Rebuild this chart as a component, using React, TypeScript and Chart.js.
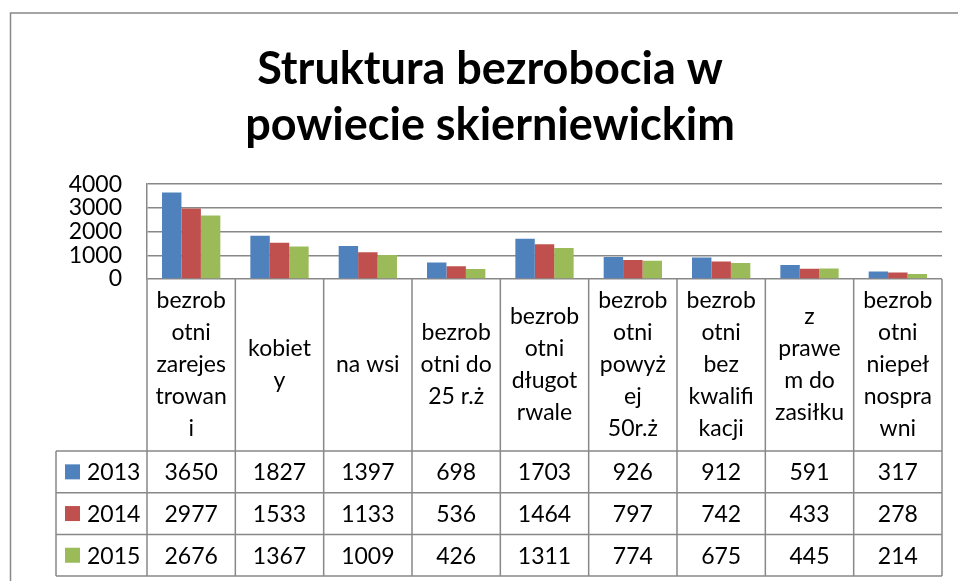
import React, { useEffect, useRef } from "react";
import { Chart, registerables } from "chart.js";

Chart.register(...registerables);

const titleLines = ["Struktura bezrobocia w", "powiecie skierniewickim"];
const categories: string[][] = [
  ["bezrob", "otni", "zarejes", "trowan", "i"],
  ["kobiet", "y"],
  ["na wsi"],
  ["bezrob", "otni do", "25 r.ż"],
  ["bezrob", "otni", "długot", "rwale"],
  ["bezrob", "otni", "powyż", "ej", "50r.ż"],
  ["bezrob", "otni", "bez", "kwalifi", "kacji"],
  ["z", "prawe", "m do", "zasiłku"],
  ["bezrob", "otni", "niepeł", "nospra", "wni"],
];
const seriesNames = ["2013", "2014", "2015"];
const values2013 = [3650, 1827, 1397, 698, 1703, 926, 912, 591, 317];
const values2014 = [2977, 1533, 1133, 536, 1464, 797, 742, 433, 278];
const values2015 = [2676, 1367, 1009, 426, 1311, 774, 675, 445, 214];
const seriesValues = [values2013, values2014, values2015];
const seriesColors = ["#4F81BD", "#C0504D", "#9BBB59"];
const yMin = 0;
const yMax = 4000;
const yStep = 1000;

const GRID = "#888888";
const FONT = "Lato";
const TEXT_SIZE = 23;

const frameAndTablePlugin = {
  id: "frameAndTable",
  beforeDraw(chart: any) {
    const { ctx } = chart;
    ctx.save();
    ctx.strokeStyle = GRID;
    ctx.lineWidth = 1.5;
    ctx.beginPath();
    ctx.moveTo(10.5, 600);
    ctx.lineTo(10.5, 13);
    ctx.lineTo(970, 13);
    ctx.stroke();
    ctx.restore();
  },
  afterDraw(chart: any) {
    const { ctx, chartArea } = chart;
    const xs = chart.scales.x;
    const n = categories.length;
    const colW = (xs.right - xs.left) / n;
    const top = chartArea.bottom;
    const headerBottom = top + 172;
    const rowH = 41.7;
    const tableBottom = headerBottom + seriesNames.length * rowH;
    const legendLeft = 56;

    ctx.save();
    ctx.strokeStyle = GRID;
    ctx.lineWidth = 1.5;
    ctx.beginPath();
    for (let i = 0; i <= n; i++) {
      const xx = xs.left + i * colW;
      ctx.moveTo(xx, top);
      ctx.lineTo(xx, tableBottom);
    }
    ctx.moveTo(legendLeft, headerBottom);
    ctx.lineTo(legendLeft, tableBottom);
    for (let r = 0; r <= seriesNames.length; r++) {
      const yy = headerBottom + r * rowH;
      ctx.moveTo(legendLeft, yy);
      ctx.lineTo(xs.right, yy);
    }
    ctx.stroke();

    ctx.fillStyle = "#000";
    ctx.font = `${TEXT_SIZE}px ${FONT}`;
    ctx.textAlign = "center";
    ctx.textBaseline = "middle";
    const lh = 32;
    const headerMid = (top + headerBottom) / 2;
    categories.forEach((lines, i) => {
      const cx = xs.getPixelForValue(i);
      const startY = headerMid - ((lines.length - 1) * lh) / 2;
      lines.forEach((t, k) => ctx.fillText(t, cx, startY + k * lh));
    });

    seriesNames.forEach((name, d) => {
      const mid = headerBottom + (d + 0.5) * rowH;
      ctx.fillStyle = seriesColors[d];
      ctx.fillRect(65, mid - 7.5, 15, 15);
      ctx.fillStyle = "#000";
      ctx.textAlign = "left";
      ctx.fillText(name, 87, mid + 1);
      ctx.textAlign = "center";
      seriesValues[d].forEach((v, i) => {
        ctx.fillText(String(v), xs.getPixelForValue(i), mid + 1);
      });
    });
    ctx.restore();
  },
};

export default function App() {
  const ref = useRef<HTMLCanvasElement | null>(null);
  useEffect(() => {
    if (!ref.current) return;
    const chart = new Chart(ref.current, {
      type: "bar",
      data: {
        labels: categories.map((c) => c.join(" ")),
        datasets: seriesNames.map((name, d) => ({
          label: name,
          data: seriesValues[d],
          backgroundColor: seriesColors[d],
          borderWidth: 0,
          categoryPercentage: 0.66,
          barPercentage: 1,
        })),
      },
      options: {
        responsive: false,
        animation: false,
        devicePixelRatio: 1,
        layout: { padding: { left: 38, right: 16, top: 0, bottom: 302 } },
        plugins: {
          legend: { display: false },
          tooltip: { enabled: false },
          title: {
            display: true,
            text: titleLines,
            color: "#000",
            font: { family: FONT, size: 45, weight: "bold", lineHeight: 1.24 },
            padding: { top: 42, bottom: 30.6 },
          },
        },
        scales: {
          x: { display: false },
          y: {
            min: yMin,
            max: yMax,
            ticks: {
              stepSize: yStep,
              autoSkip: false,
              callback: (v: any) => String(v),
              color: "#000",
              font: { family: FONT, size: TEXT_SIZE, lineHeight: 1 },
              padding: 25,
            },
            grid: { color: GRID, lineWidth: 1.5, drawTicks: false },
            border: { display: true, color: GRID, width: 1.5 },
            afterFit: (scale: any) => {
              scale.width = 109;
            },
          },
        },
      },
      plugins: [frameAndTablePlugin],
    });
    return () => chart.destroy();
  }, []);
  return (
    <div style={{ position: "fixed", left: 0, top: 0, width: 958, height: 581, background: "#fff" }}>
      <canvas ref={ref} width={958} height={581} />
    </div>
  );
}
